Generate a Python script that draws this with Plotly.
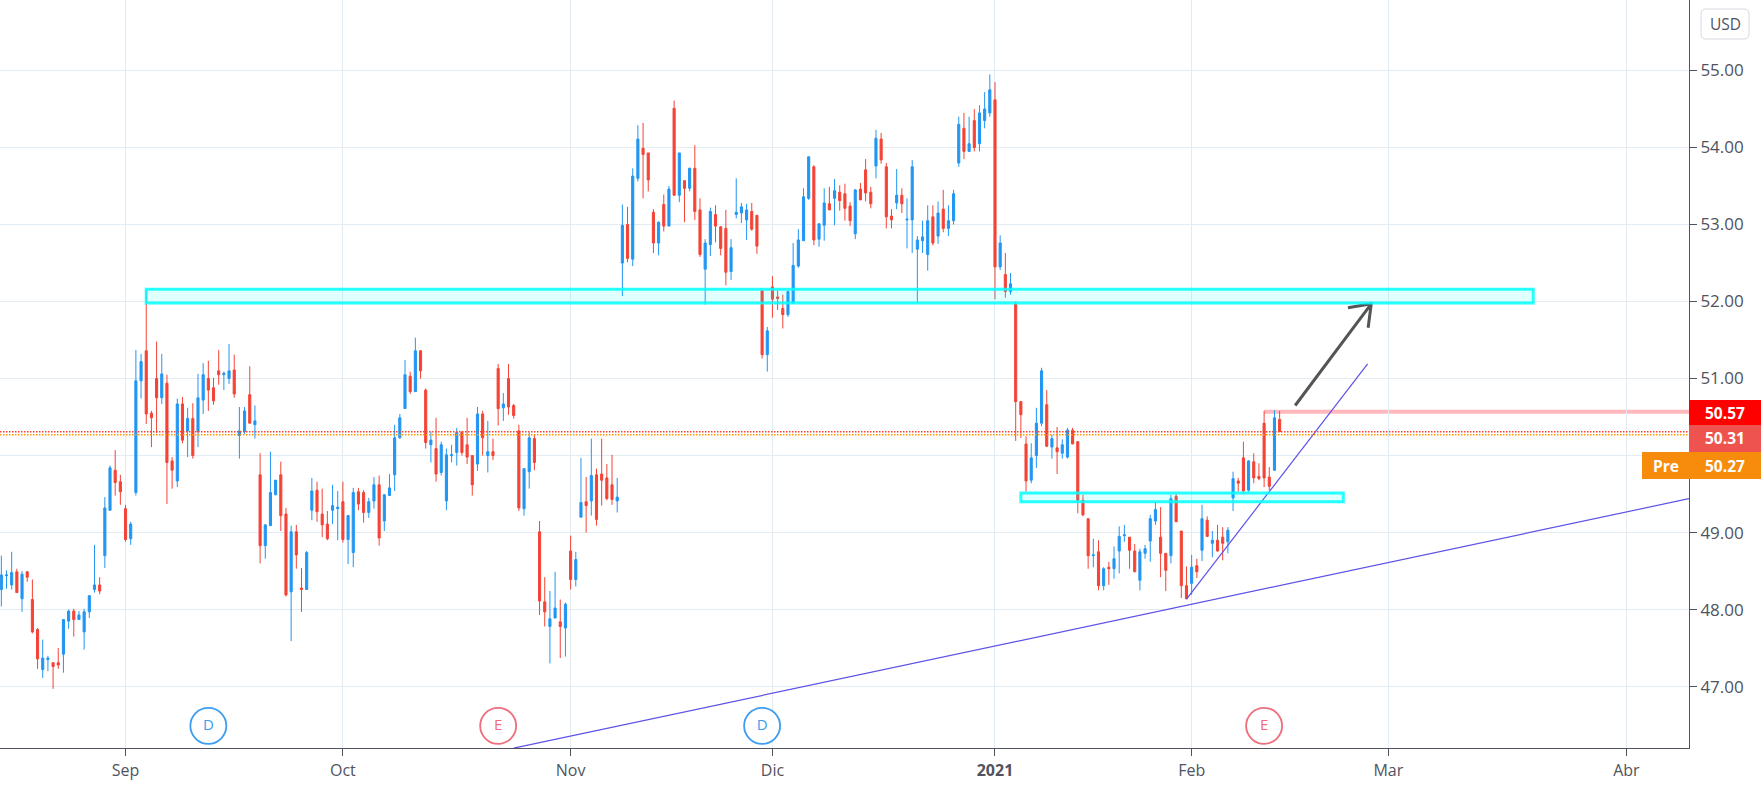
import plotly.graph_objects as go

# chart size in pixels
WIDTH = 1761
HEIGHT = 792
AXIS_X = 1689
AXIS_Y = 748

UP = "#2196f3"
DOWN = "#f44336"
GRID = "#e3ecf3"
AXIS = "#50535e"
FONT = "Open Sans"

opens = [
    48.26,48.44,48.32,48.49,48.14,48.49,48.13,47.74,47.22,47.35,
    47.31,47.31,47.42,47.85,47.98,47.87,47.71,47.97,48.26,48.32,
    48.70,49.29,49.81,49.66,49.31,48.92,49.52,50.97,51.36,50.55,
    51.00,50.75,50.94,49.93,49.67,50.67,50.32,50.48,50.31,50.72,
    51.00,50.88,51.10,51.05,51.00,51.11,50.26,50.31,50.79,50.40,
    49.75,48.83,49.09,49.49,49.75,49.24,48.23,49.01,48.28,48.26,
    49.29,49.55,49.24,49.11,49.29,49.31,49.40,48.91,48.74,49.53,
    49.52,49.26,49.41,49.62,49.15,49.48,49.75,50.23,50.61,51.03,
    50.83,51.36,50.85,50.14,50.09,49.78,49.41,50.00,50.04,50.30,
    50.14,50.00,49.89,50.54,50.00,50.05,51.13,50.62,51.00,50.65,
    50.32,49.31,49.79,50.22,49.01,48.10,47.78,47.89,47.84,47.76,
    48.76,48.39,49.20,49.40,49.41,49.75,49.76,49.71,49.62,49.41,
    52.50,53.00,52.55,53.60,53.99,53.93,53.16,52.76,53.26,52.98,
    54.51,53.38,53.57,53.47,53.73,53.19,52.42,52.74,53.13,52.97,
    52.95,52.39,53.13,53.15,53.06,53.17,53.12,52.14,51.31,52.19,
    52.06,51.91,51.83,51.98,52.46,52.79,53.34,53.75,52.81,52.99,
    53.27,53.34,53.42,53.40,53.24,52.88,53.46,53.71,53.42,53.76,
    54.11,53.75,53.11,53.28,53.38,53.06,53.06,52.68,52.79,52.61,
    53.10,52.85,53.20,52.95,53.05,53.80,54.25,53.95,54.35,54.05,
    54.35,54.45,54.62,52.45,52.35,52.13,51.97,50.70,50.15,49.68,
    50.00,50.42,50.66,50.11,50.10,50.03,49.98,50.33,50.18,49.42,
    49.18,48.70,48.75,48.31,48.55,48.53,48.76,48.96,48.94,48.76,
    48.38,48.73,48.89,49.15,48.94,48.73,48.70,49.47,49.02,48.31,
    48.34,48.57,48.77,49.16,48.86,48.90,48.94,48.88,49.45,49.67,
    49.97,49.55,49.92,49.73,50.42,49.72,49.81,50.47,
]
highs = [
    48.70,48.51,48.75,48.53,48.50,48.50,48.39,47.76,47.61,47.40,
    47.31,47.50,47.87,48.00,48.01,47.98,48.01,48.18,48.84,48.42,
    49.46,49.87,50.07,49.75,49.36,49.14,51.37,51.32,52.15,50.58,
    51.48,51.32,51.05,49.98,50.74,50.76,50.62,50.68,51.06,51.20,
    51.23,51.01,51.37,51.09,51.45,51.31,50.63,50.63,51.16,50.65,
    50.03,49.10,50.05,49.68,49.92,49.32,49.09,49.10,48.54,48.76,
    49.71,49.66,49.57,49.28,49.62,49.54,49.66,49.23,49.58,49.58,
    49.55,49.45,49.72,49.74,49.50,49.76,50.40,50.54,51.24,51.09,
    51.53,51.37,50.87,50.31,50.49,50.18,50.09,50.14,50.36,50.32,
    50.49,50.00,50.63,50.58,50.45,50.22,51.19,50.81,51.19,50.67,
    50.40,49.83,50.30,50.28,49.15,48.42,48.24,48.49,48.13,48.09,
    48.96,48.75,49.97,49.72,50.22,49.83,50.22,49.89,50.01,49.71,
    53.26,53.23,53.73,54.29,54.32,53.93,53.20,53.04,53.39,53.50,
    54.61,53.93,53.57,53.74,54.03,53.34,52.81,53.22,53.25,52.98,
    53.19,52.81,53.60,53.28,53.27,53.28,53.12,52.14,51.67,52.33,
    52.14,52.09,52.14,52.76,52.94,53.47,53.88,53.77,53.01,53.47,
    53.49,53.59,53.51,53.53,53.29,53.46,53.54,53.85,53.49,54.23,
    54.19,53.80,53.20,53.72,53.47,53.34,53.84,52.85,53.05,53.25,
    53.25,53.30,53.45,53.25,53.45,54.40,54.45,54.40,54.50,54.55,
    54.72,54.95,54.85,52.86,52.63,52.37,52.00,50.71,50.25,50.16,
    50.62,51.14,50.85,50.27,50.37,50.21,50.36,50.36,50.18,49.49,
    49.18,48.92,48.90,48.55,48.62,48.82,49.08,49.10,48.94,48.85,
    48.79,48.84,49.23,49.40,49.33,48.73,49.49,49.50,49.02,48.56,
    48.71,48.66,49.36,49.21,49.02,49.10,49.07,49.07,49.79,49.71,
    50.18,49.94,50.03,49.90,50.58,49.85,50.59,50.58,
]
lows = [
    48.04,48.27,48.26,48.22,47.97,48.36,47.69,47.23,47.11,47.20,
    46.97,47.23,47.18,47.75,47.65,47.87,47.48,47.89,48.22,48.20,
    48.54,49.28,49.48,49.36,48.88,48.84,49.48,50.74,50.41,50.11,
    50.29,50.67,49.37,49.57,49.59,50.16,49.98,49.96,50.11,50.54,
    50.58,50.66,50.92,50.85,50.93,50.75,49.96,50.28,50.42,50.22,
    48.60,48.66,49.09,49.49,49.02,48.17,47.59,48.53,47.97,48.26,
    49.16,49.14,48.94,48.90,49.11,48.90,48.87,48.59,48.55,49.29,
    49.13,49.19,49.31,48.83,49.02,49.48,49.54,50.22,50.61,50.80,
    50.83,51.00,50.09,49.91,49.66,49.74,49.29,49.91,49.87,50.00,
    49.89,49.48,49.80,50.00,49.78,49.94,50.39,50.45,50.53,50.48,
    49.28,49.22,49.57,49.81,47.93,47.78,47.30,47.89,47.37,47.39,
    48.26,48.30,49.20,49.00,49.22,49.09,49.35,49.42,49.36,49.26,
    52.07,52.51,52.46,53.56,53.34,53.43,52.63,52.60,52.91,52.98,
    53.38,53.29,53.03,53.43,53.06,52.58,51.96,52.59,52.77,52.60,
    52.21,52.28,53.08,53.02,52.80,52.92,52.62,51.26,51.09,51.79,
    51.89,51.65,51.80,51.97,52.44,52.79,53.32,52.73,52.71,52.79,
    53.19,52.99,53.18,53.05,52.98,52.81,53.32,53.30,53.21,53.60,
    53.79,52.95,52.95,53.20,53.15,52.69,52.63,51.99,52.63,52.40,
    52.73,52.75,52.90,52.85,53.00,53.75,53.85,53.95,53.95,53.95,
    54.25,54.40,52.03,52.41,52.05,52.09,50.19,50.23,49.53,49.64,
    49.84,50.38,50.12,49.96,49.76,49.96,49.96,50.15,49.25,49.21,
    48.53,48.55,48.25,48.25,48.32,48.40,48.47,48.88,48.53,48.49,
    48.25,48.66,48.62,49.10,48.42,48.24,48.60,49.14,48.15,48.14,
    48.19,48.41,48.63,48.95,48.68,48.75,48.64,48.73,49.28,49.53,
    49.50,49.53,49.64,49.68,49.59,49.55,49.80,50.31,
]
closes = [
    48.45,48.45,48.48,48.22,48.46,48.42,47.71,47.36,47.37,47.37,
    47.26,47.28,47.87,47.98,47.87,47.93,47.97,48.18,48.32,48.24,
    49.32,49.84,49.65,49.53,48.91,49.11,50.97,51.22,50.54,50.49,
    50.75,51.06,49.91,49.81,50.67,50.20,50.48,50.00,50.75,51.05,
    50.85,50.71,51.05,51.07,51.10,50.80,50.32,50.58,50.42,50.45,
    48.83,49.10,49.52,49.68,49.22,48.19,49.01,48.71,48.26,48.74,
    49.54,49.27,49.10,48.92,49.35,49.33,48.91,49.22,49.52,49.37,
    49.26,49.40,49.62,48.93,49.49,49.58,50.23,50.49,51.05,50.83,
    51.36,51.10,50.17,50.20,49.76,50.14,50.01,50.01,50.30,50.04,
    49.98,49.62,50.54,50.23,50.05,50.00,50.61,50.67,50.63,50.52,
    49.32,49.83,50.23,49.91,48.11,47.97,47.88,48.02,47.78,48.07,
    48.39,48.65,49.39,49.35,49.74,49.17,49.68,49.44,49.43,49.46,
    52.99,52.56,53.63,54.11,53.91,53.58,52.76,53.03,52.98,53.46,
    53.38,53.93,53.47,53.73,53.17,52.61,52.76,53.17,52.98,52.69,
    52.38,52.70,53.16,53.23,53.19,52.94,52.72,51.31,51.62,52.03,
    52.04,51.83,52.13,52.47,52.80,53.36,53.88,52.80,53.01,53.28,
    53.19,53.44,53.31,53.21,53.05,53.45,53.32,53.41,53.27,54.12,
    53.84,53.10,53.06,53.38,53.27,53.07,53.75,52.80,52.84,53.05,
    52.76,53.15,52.95,53.05,53.40,54.30,53.95,54.05,54.00,54.45,
    54.50,54.75,52.45,52.76,52.13,52.23,50.70,50.53,49.67,49.97,
    50.42,51.10,50.12,50.22,50.05,50.14,50.33,50.15,49.42,49.23,
    48.70,48.71,48.31,48.53,48.53,48.66,48.95,48.97,48.77,48.49,
    48.75,48.79,49.18,49.30,48.73,48.51,49.44,49.14,48.31,48.14,
    48.55,48.49,49.18,48.95,48.90,48.76,48.86,49.03,49.70,49.64,
    49.54,49.93,49.71,49.70,49.71,49.60,50.49,50.31,
]
bars = list(range(len(closes)))

month_bars = [24, 66, 110, 149, 192, 230, 268, 314]
month_labels = ["Sep", "Oct", "Nov", "Dic", "<b>2021</b>", "Feb", "Mar", "Abr"]
price_ticks = [47, 48, 49, 50, 51, 52, 53, 54, 55]
# the 50.00 label sits behind the price tags, so it stays empty
price_labels = ["47.00", "48.00", "49.00", "", "51.00", "52.00", "53.00", "54.00", "55.00"]

# dividend / earnings markers along the bottom
event_bars = [40, 96, 147, 244]
event_labels = ["D", "E", "D", "E"]
event_colors = ["#3d9df2", "#ee6e7d", "#3d9df2", "#ee6e7d"]
event_price = 46.49

# drawings on top of the candles
resistance_bars = [28, 296]
resistance_prices = [51.98, 52.16]
support_bars = [197, 259.3]
support_prices = [49.40, 49.515]
long_trend_bars = [99, 326.1]
long_trend_prices = [46.2, 49.44]
short_trend_bars = [229, 264]
short_trend_prices = [48.135, 51.19]
arrow_bars = [250, 264.7, 260.2, 264.7, 264.1]
arrow_prices = [50.65, 51.97, 51.92, 51.97, 51.66]
high_line_start = 244
high_line_price = 50.57
last_price = 50.31
pre_price = 50.27

x_range = [-0.257, 326.1]
y_range = [46.202, 55.916]


def px_x(px):
    return px / AXIS_X


def px_y(py):
    return 1 - py / AXIS_Y


fig = go.Figure()

fig.add_trace(go.Candlestick(
    x=bars, open=opens, high=highs, low=lows, close=closes,
    increasing=dict(line=dict(color=UP, width=1), fillcolor=UP),
    decreasing=dict(line=dict(color=DOWN, width=1), fillcolor=DOWN),
    whiskerwidth=0,
    showlegend=False,
))

# thin trend lines and the arrow
for xs, ys, color, width in [
    (long_trend_bars, long_trend_prices, "#5c52e8", 1.2),
    (short_trend_bars, short_trend_prices, "#5c52e8", 1.2),
    (arrow_bars, arrow_prices, "#555555", 3),
]:
    fig.add_trace(go.Scatter(
        x=xs, y=ys, mode="lines",
        line=dict(color=color, width=width),
        showlegend=False, hoverinfo="skip",
    ))

fig.add_trace(go.Scatter(
    x=event_bars, y=[event_price] * len(event_bars),
    mode="markers+text", text=event_labels, textposition="middle center",
    textfont=dict(family=FONT, size=15, color=event_colors),
    marker=dict(size=36, color="white", line=dict(color=event_colors, width=1.8)),
    showlegend=False, hoverinfo="skip",
))

shapes = []
for bx, py in [(resistance_bars, resistance_prices), (support_bars, support_prices)]:
    shapes.append(dict(
        type="rect", xref="x", yref="y",
        x0=bx[0], x1=bx[1], y0=py[0], y1=py[1],
        line=dict(color="rgba(0,255,255,0.85)", width=3),
        fillcolor="rgba(0,255,255,0.12)",
    ))

shapes.append(dict(
    type="line", xref="x", yref="y",
    x0=high_line_start, x1=x_range[1], y0=high_line_price, y1=high_line_price,
    line=dict(color="#ffb8bc", width=4), layer="below",
))
shapes.append(dict(
    type="line", xref="paper", yref="y",
    x0=0, x1=1, y0=last_price, y1=last_price,
    line=dict(color=DOWN, width=1.5, dash="1.5px,1.5px"),
))
shapes.append(dict(
    type="line", xref="paper", yref="y",
    x0=0, x1=1, y0=pre_price, y1=pre_price,
    line=dict(color="#ff9800", width=1.5, dash="1.5px,1.5px"),
))

# USD button, rounded box in the price scale
x0, x1, y0, y1, r = px_x(1701), px_x(1749), px_y(9), px_y(39), 5 / AXIS_X
ry = 5 / AXIS_Y
shapes.append(dict(
    type="path", xref="paper", yref="paper",
    path=(f"M {x0+r} {y0} L {x1-r} {y0} Q {x1} {y0} {x1} {y0-ry} "
          f"L {x1} {y1+ry} Q {x1} {y1} {x1-r} {y1} L {x0+r} {y1} "
          f"Q {x0} {y1} {x0} {y1+ry} L {x0} {y0-ry} Q {x0} {y0} {x0+r} {y0} Z"),
    line=dict(color="#d6d8e0", width=1), fillcolor="white",
))

annotations = [dict(
    xref="paper", yref="paper", x=px_x(1725), y=px_y(24),
    xanchor="center", yanchor="middle",
    text="USD", showarrow=False, font=dict(family=FONT, size=15.5, color=AXIS),
)]

# price labels stacked on the scale
for text, left, w, top, h, bg in [
    ("50.57", 1689, 72, 400, 25, "#ff0000"),
    ("50.31", 1689, 72, 425, 27, "#ef5350"),
    ("50.27", 1689, 72, 452, 27, "#f68b0c"),
    ("Pre", 1642, 47, 452, 27, "#f68b0c"),
]:
    shapes.append(dict(
        type="rect", xref="paper", yref="paper",
        x0=px_x(left), x1=px_x(left + w), y0=px_y(top), y1=px_y(top + h),
        line=dict(width=0), fillcolor=bg,
    ))
    annotations.append(dict(
        xref="paper", yref="paper", xanchor="center", yanchor="middle",
        x=px_x(left + w / 2), y=px_y(top + h / 2),
        text=f"<b>{text}</b>", showarrow=False,
        borderpad=0, borderwidth=0,
        font=dict(family=FONT, size=15.5, color="white"),
    ))

fig.update_layout(
    width=WIDTH, height=HEIGHT,
    margin=dict(l=0, r=WIDTH - AXIS_X, t=0, b=HEIGHT - AXIS_Y),
    paper_bgcolor="white", plot_bgcolor="white",
    boxgap=0.42,
    showlegend=False,
    shapes=shapes,
    annotations=annotations,
    font=dict(family=FONT, size=17, color=AXIS),
    xaxis=dict(
        range=x_range, rangeslider=dict(visible=False),
        tickmode="array", tickvals=month_bars, ticktext=month_labels,
        tickfont=dict(size=16),
        showgrid=True, gridcolor=GRID, gridwidth=1, zeroline=False,
        showline=True, linecolor=AXIS, linewidth=1,
        ticks="outside", ticklen=7, tickcolor=AXIS, ticklabelstandoff=1,
    ),
    yaxis=dict(
        range=y_range, side="right",
        tickmode="array", tickvals=price_ticks, ticktext=price_labels,
        showgrid=True, gridcolor=GRID, gridwidth=1, zeroline=False,
        showline=True, linecolor=AXIS, linewidth=1,
        ticks="outside", ticklen=7, tickcolor=AXIS,
    ),
)

# the page body has a default margin that would shift the chart
fig.write_html(
    "out.html",
    config={"displayModeBar": False},
    post_script="document.body.style.margin='0';",
)
